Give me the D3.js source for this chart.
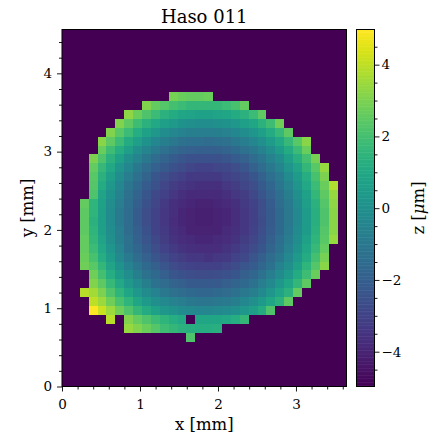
<!DOCTYPE html>
<html>
<head>
<meta charset="utf-8">
<script src="https://cdn.jsdelivr.net/npm/d3@7"></script>
<style>
  body { margin: 0; background: #fff; }
  text { font-family: "DejaVu Serif", serif; fill: #000; }
</style>
</head>
<body>
<div id="chart"></div>
<script>

// wavefront map of the sensor: 32 x 40 lenslets, 0.114 mm pitch
var title = "Haso 011";
var pitch = 0.114;
var nCols = 32, nRows = 40;
var xTicks = [0, 1, 2, 3];
var yTicks = [0, 1, 2, 3, 4];
var cbTicks = [-4, -2, 0, 2, 4];
var zRange = [-4.97, 4.98];

// z in um, one string per lenslet row, top row first ("." = no spot)
var zRows = [
  "", "", "", "", "", "", "",
  ". . . . . . . . . . . . 2.9 2.7 2.6 2.6 2.7 . . . . . . . . . . . . . . .",
  ". . . . . . . . . 3.1 2.6 2.3 2.0 1.8 1.6 1.6 1.6 1.6 1.8 2.1 2.6 . . . . . . . . . . .",
  ". . . . . . . 3.3 2.7 2.2 1.8 1.4 1.1 0.9 0.8 0.7 0.7 0.8 0.9 1.1 1.4 1.8 2.5 . . . . . . . . .",
  ". . . . . . 3.1 2.5 1.9 1.4 1.0 0.6 0.4 0.1 0.0 -0.1 -0.1 0.0 0.1 0.3 0.6 0.9 1.4 1.9 2.8 . . . . . . .",
  ". . . . . 3.1 2.4 1.8 1.2 0.7 0.3 -0.1 -0.4 -0.6 -0.7 -0.8 -0.8 -0.7 -0.6 -0.4 -0.1 0.2 0.6 1.1 1.7 2.5 . . . . . .",
  ". . . . 3.2 2.5 1.8 1.1 0.6 0.1 -0.4 -0.7 -1.0 -1.2 -1.4 -1.4 -1.5 -1.4 -1.3 -1.0 -0.8 -0.4 0.0 0.5 1.0 1.7 2.4 3.2 . . . .",
  ". . . . 2.7 1.9 1.2 0.6 0.0 -0.5 -0.9 -1.3 -1.6 -1.8 -1.9 -2.0 -2.0 -2.0 -1.8 -1.6 -1.3 -1.0 -0.6 -0.1 0.5 1.1 1.8 2.7 . . . .",
  ". . . 3.0 2.2 1.4 0.7 0.0 -0.5 -1.0 -1.5 -1.8 -2.1 -2.3 -2.5 -2.5 -2.5 -2.5 -2.3 -2.1 -1.9 -1.5 -1.1 -0.6 -0.1 0.6 1.3 2.0 2.9 . . .",
  ". . . 2.6 1.7 1.0 0.2 -0.4 -1.0 -1.5 -1.9 -2.2 -2.5 -2.7 -2.9 -3.0 -3.0 -2.9 -2.8 -2.6 -2.3 -1.9 -1.5 -1.0 -0.5 0.2 0.8 1.6 2.4 3.4 . .",
  ". . . 2.4 1.4 0.6 -0.1 -0.8 -1.3 -1.8 -2.3 -2.6 -2.9 -3.1 -3.3 -3.3 -3.3 -3.3 -3.1 -2.9 -2.7 -2.3 -1.9 -1.4 -0.9 -0.2 0.5 1.2 2.1 3.0 . .",
  ". . . 2.3 1.1 0.3 -0.4 -1.1 -1.6 -2.1 -2.5 -2.9 -3.2 -3.4 -3.5 -3.6 -3.6 -3.6 -3.4 -3.2 -2.9 -2.6 -2.2 -1.7 -1.1 -0.5 0.2 1.0 1.8 2.7 3.8 .",
  ". . . 2.2 0.8 0.1 -0.6 -1.3 -1.8 -2.3 -2.8 -3.1 -3.4 -3.6 -3.8 -3.8 -3.8 -3.8 -3.6 -3.4 -3.2 -2.8 -2.4 -1.9 -1.4 -0.7 0.0 0.7 1.6 2.5 3.4 .",
  ". . 2.6 1.5 0.7 -0.1 -0.8 -1.4 -2.0 -2.5 -2.9 -3.3 -3.6 -3.8 -3.9 -4.0 -4.0 -3.9 -3.8 -3.6 -3.3 -3.0 -2.6 -2.1 -1.5 -0.9 -0.2 0.6 1.4 2.3 3.3 .",
  ". . 2.5 1.5 0.6 -0.2 -0.9 -1.5 -2.1 -2.6 -3.0 -3.4 -3.6 -3.9 -4.0 -4.1 -4.1 -4.0 -3.9 -3.7 -3.4 -3.1 -2.6 -2.2 -1.6 -1.0 -0.3 0.5 1.3 2.2 3.2 .",
  ". . 2.5 1.4 0.6 -0.2 -0.9 -1.5 -2.1 -2.6 -3.0 -3.4 -3.7 -3.9 -4.0 -4.1 -4.1 -4.0 -3.9 -3.7 -3.4 -3.1 -2.7 -2.2 -1.6 -1.0 -0.3 0.5 1.3 2.2 3.2 .",
  ". . 2.5 1.5 0.6 -0.1 -0.8 -1.5 -2.0 -2.5 -3.0 -3.3 -3.6 -3.8 -4.0 -4.0 -4.0 -4.0 -3.8 -3.6 -3.4 -3.0 -2.6 -2.1 -1.6 -0.9 -0.2 0.5 1.4 2.3 3.2 .",
  ". . 2.6 1.6 0.8 0.0 -0.7 -1.3 -1.9 -2.4 -2.8 -3.2 -3.5 -3.7 -3.8 -3.9 -3.9 -3.8 -3.7 -3.5 -3.2 -2.9 -2.5 -2.0 -1.4 -0.8 -0.1 0.7 1.5 2.4 3.4 .",
  ". . 2.6 1.8 1.0 0.2 -0.5 -1.2 -1.7 -2.2 -2.6 -3.0 -3.3 -3.5 -3.6 -3.7 -3.7 -3.7 -3.5 -3.3 -3.0 -2.7 -2.3 -1.8 -1.2 -0.6 0.1 0.9 1.7 2.6 . .",
  ". . 2.7 2.1 1.2 0.5 -0.3 -0.9 -1.5 -1.9 -2.4 -2.7 -3.0 -3.2 -3.4 -3.4 -3.5 -3.4 -3.3 -3.0 -2.8 -2.4 -2.0 -1.5 -1.0 -0.3 0.4 1.1 2.0 2.9 . .",
  ". . 2.8 2.4 1.6 0.8 0.1 -0.6 -1.1 -1.6 -2.0 -2.4 -2.7 -2.9 -3.0 -3.1 -3.1 -3.1 -2.9 -2.7 -2.4 -2.1 -1.7 -1.2 -0.6 0.0 0.7 1.5 2.3 3.2 . .",
  ". . . 2.8 2.0 1.2 0.5 -0.1 -0.7 -1.2 -1.6 -2.0 -2.3 -2.5 -2.6 -2.7 -2.7 -2.6 -2.5 -2.3 -2.0 -1.7 -1.3 -0.8 -0.2 0.4 1.1 1.9 2.7 . . .",
  ". . . 3.1 2.5 1.7 1.0 0.3 -0.2 -0.7 -1.2 -1.5 -1.8 -2.0 -2.2 -2.2 -2.2 -2.2 -2.0 -1.8 -1.6 -1.2 -0.8 -0.3 0.3 0.9 1.6 2.5 . . . .",
  ". . 3.9 3.6 3.0 2.2 1.5 0.9 0.3 -0.2 -0.6 -1.0 -1.3 -1.5 -1.6 -1.7 -1.7 -1.6 -1.5 -1.3 -1.0 -0.7 -0.3 0.2 0.8 1.4 2.6 . . . . .",
  ". . . 4.0 3.5 2.8 2.1 1.5 0.9 0.4 0.0 -0.3 -0.6 -0.8 -1.0 -1.1 -1.1 -1.0 -0.9 -0.7 -0.4 0.0 0.4 0.9 1.4 2.5 . . . . . .",
  ". . . 4.97 4.2 3.5 2.8 2.2 1.6 1.1 0.7 0.3 0.1 -0.2 -0.3 -0.4 -0.4 -0.3 -0.2 0.0 0.3 0.6 1.1 2.2 . . . . . . . .",
  ". . . . . 3.9 . 3.1 2.6 2.2 1.8 1.5 1.2 1.0 . 0.9 0.9 0.9 1.0 1.2 1.6 . . . . . . . . . . .",
  ". . . . . . . 3.4 3.1 2.7 2.3 1.9 1.6 1.4 1.3 1.2 1.2 1.3 . . . . . . . . . . . . . .",
  ". . . . . . . . . . . . . . 2.2 . . . . . . . . . . . . . . . . .",
  "", "", "", "", ""
];

var W = 432, H = 438;
var plotL = 62, plotR = 346.5, plotT = 29.5, plotB = 386.5;
var cbL = 356.5, cbR = 374.5;

var svg = d3.select("#chart")
  .append("svg")
    .attr("width", W)
    .attr("height", H);

var grid = zRows.map(function(row, j) {
  var tok = row.trim() === "" ? d3.range(nCols).map(function() { return "."; }) : row.trim().split(/\s+/);
  if (tok.length !== nCols) throw new Error("row " + j + " has " + tok.length + " cells");
  return tok.map(function(t) { return t === "." ? null : +t; });
});

var x = d3.scaleLinear().domain([0, nCols * pitch]).range([plotL, plotR]);
var y = d3.scaleLinear().domain([0, nRows * pitch]).range([plotB, plotT]);
var color = d3.scaleSequential(d3.interpolateViridis).domain(zRange);

// cells
var cells = [];
grid.forEach(function(row, j) {
  row.forEach(function(v, i) { cells.push({i: i, j: j, v: v}); });
});

function cellFill(d) { return d.v === null ? color(zRange[0]) : color(d.v); }

svg.append("g")
  .attr("shape-rendering", "crispEdges")
  .selectAll("rect")
  .data(cells)
  .join("rect")
    .attr("x", function(d) { return x(d.i * pitch); })
    .attr("y", function(d) { return y((nRows - d.j) * pitch); })
    .attr("width", function(d) { return x((d.i + 1) * pitch) - x(d.i * pitch) + 0.6; })
    .attr("height", function(d) { return y((nRows - d.j - 1) * pitch) - y((nRows - d.j) * pitch) + 0.6; })
    .attr("fill", cellFill);

// frame
svg.append("rect")
  .attr("x", plotL).attr("y", plotT)
  .attr("width", plotR - plotL).attr("height", plotB - plotT)
  .attr("fill", "none").attr("stroke", "#000").attr("stroke-width", 1);

// x axis
var xMinor = d3.range(0, 19).filter(function(i) { return i % 5 !== 0; }).map(function(i) { return i * 0.2; });
svg.append("g")
  .attr("transform", "translate(0," + plotB + ")")
  .call(d3.axisBottom(x).tickValues(xMinor).tickSize(3).tickFormat(""))
  .call(function(g) { g.select(".domain").remove(); });
var gx = svg.append("g")
  .attr("transform", "translate(0," + plotB + ")")
  .call(d3.axisBottom(x).tickValues(xTicks).tickSize(5).tickFormat(d3.format("d")));
gx.select(".domain").remove();
gx.selectAll("text").attr("y", 22.5).attr("dy", null).style("font-size", "13.5px");

// y axis
var yMinor = d3.range(0, 23).filter(function(i) { return i % 5 !== 0; }).map(function(i) { return i * 0.2; });
svg.append("g")
  .attr("transform", "translate(" + plotL + ",0)")
  .call(d3.axisLeft(y).tickValues(yMinor).tickSize(3).tickFormat(""))
  .call(function(g) { g.select(".domain").remove(); });
var gy = svg.append("g")
  .attr("transform", "translate(" + plotL + ",0)")
  .call(d3.axisLeft(y).tickValues(yTicks).tickSize(5).tickFormat(d3.format("d")));
gy.select(".domain").remove();
gy.selectAll("text").attr("x", -10).style("font-size", "13.5px");

// colorbar
var cbY = d3.scaleLinear().domain(zRange).range([plotB, plotT]);
var steps = d3.range(0, 256);
var stepH = (plotB - plotT) / steps.length;
svg.append("g")
  .selectAll("rect")
  .data(steps)
  .join("rect")
    .attr("x", cbL)
    .attr("y", function(s) { return plotB - (s + 1) * stepH; })
    .attr("width", cbR - cbL)
    .attr("height", stepH + 0.5)
    .attr("fill", function(s) { return color(zRange[0] + (s + 0.5) / steps.length * (zRange[1] - zRange[0])); });
svg.append("rect")
  .attr("x", cbL).attr("y", plotT)
  .attr("width", cbR - cbL).attr("height", plotB - plotT)
  .attr("fill", "none").attr("stroke", "#000").attr("stroke-width", 1);

var cbMinor = d3.range(-9, 10).filter(function(i) { return i % 4 !== 0; }).map(function(i) { return i * 0.5; });
svg.append("g")
  .attr("transform", "translate(" + cbR + ",0)")
  .call(d3.axisRight(cbY).tickValues(cbMinor).tickSize(3).tickFormat(""))
  .call(function(g) { g.select(".domain").remove(); });
var gc = svg.append("g")
  .attr("transform", "translate(" + cbR + ",0)")
  .call(d3.axisRight(cbY).tickValues(cbTicks).tickSize(5).tickFormat(d3.format("d")));
gc.select(".domain").remove();
gc.selectAll("text").attr("x", 7).style("font-size", "13.5px");
svg.selectAll(".tick line").attr("stroke", "#000").attr("stroke-width", 0.9);

// text labels
svg.append("text")
  .attr("x", (plotL + plotR) / 2)
  .attr("y", 23)
  .style("text-anchor", "middle")
  .style("font-size", "18px")
  .text(title);

svg.append("text")
  .attr("x", (plotL + plotR) / 2)
  .attr("y", 430)
  .style("text-anchor", "middle")
  .style("font-size", "16.5px")
  .text("x [mm]");

svg.append("text")
  .attr("transform", "translate(33," + ((plotT + plotB) / 2) + ") rotate(-90)")
  .style("text-anchor", "middle")
  .style("font-size", "16.5px")
  .text("y [mm]");

var zl = svg.append("text")
  .attr("transform", "translate(424," + ((plotT + plotB) / 2) + ") rotate(-90)")
  .style("text-anchor", "middle")
  .style("font-size", "16.5px");
zl.append("tspan").text("z [");
zl.append("tspan").style("font-style", "italic").text("\u03bc");
zl.append("tspan").text("m]");

</script>
</body>
</html>
